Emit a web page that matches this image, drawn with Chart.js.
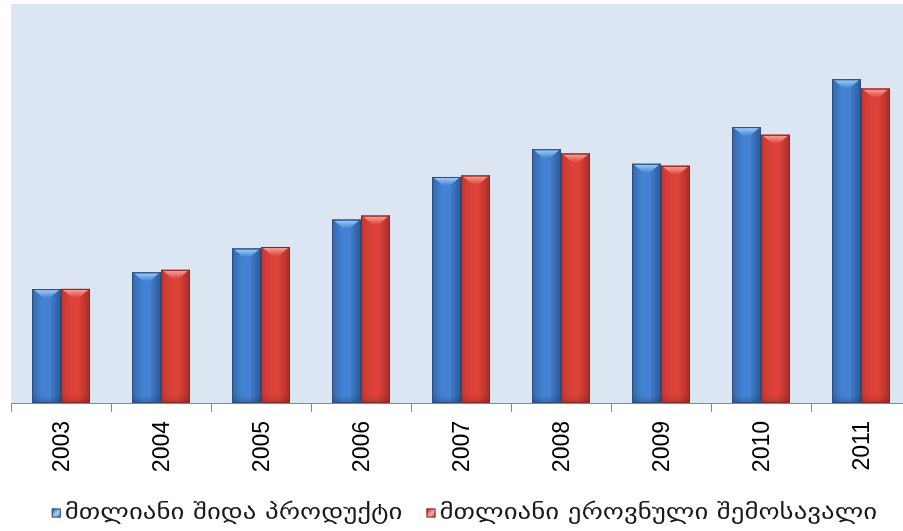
<!DOCTYPE html>
<html>
<head>
<meta charset="utf-8">
<script src="https://cdn.jsdelivr.net/npm/chart.js@4/dist/chart.umd.min.js"></script>
<style>
  html, body { margin: 0; padding: 0; background: #fff; overflow: hidden; }
  #wrap { width: 929px; height: 531px; }
</style>
</head>
<body>
<div id="wrap"><canvas id="c" width="929" height="531"></canvas></div>
<script>
// Years on the category axis
const years = ['2003', '2004', '2005', '2006', '2007', '2008', '2009', '2010', '2011'];
// Gross domestic product, million GEL
const gdp = [8564, 9824, 11621, 13790, 16994, 19075, 17986, 20743, 24344];
// Gross national income, million GEL
const gni = [8580, 10010, 11730, 14090, 17110, 18760, 17840, 20170, 23640];
// Series names shown in the legend
const seriesNames = ['მთლიანი შიდა პროდუქტი', 'მთლიანი ეროვნული შემოსავალი'];
// Upper bound of the (hidden) value axis
const valueMax = 30000;

// Shading palettes for the cylinder-like bars
const palettes = [
  { c0: '#3466AA', c1: '#4382D2', c2: '#2D5896', hi: '#A5D2FA', edge: '#2B4E7E' },
  { c0: '#C2372F', c1: '#DC4239', c2: '#A72E27', hi: '#F8AAA2', edge: '#8B2722' }
];

// Light panel behind the bars
const panelBg = {
  id: 'panelBg',
  beforeDraw(chart) {
    const { ctx, chartArea: a } = chart;
    ctx.save();
    ctx.fillStyle = '#DCE6F2';
    ctx.fillRect(a.left, a.top, a.right - a.left, a.bottom - a.top);
    ctx.restore();
  }
};

// Repaint every bar with a horizontal gradient, a bevelled top and a dark edge
const barShading = {
  id: 'barShading',
  afterDatasetsDraw(chart) {
    const ctx = chart.ctx;
    chart.data.datasets.forEach((ds, di) => {
      const pal = palettes[di];
      const meta = chart.getDatasetMeta(di);
      meta.data.forEach(bar => {
        const { x, y, base, width } = bar.getProps(['x', 'y', 'base', 'width'], true);
        const l = x - width / 2, r = x + width / 2, h = base - y;
        ctx.save();
        const g = ctx.createLinearGradient(l, 0, r, 0);
        g.addColorStop(0, pal.c0);
        g.addColorStop(0.35, pal.c1);
        g.addColorStop(0.6, pal.c1);
        g.addColorStop(1, pal.c2);
        ctx.fillStyle = g;
        ctx.fillRect(l, y, width, h);
        // darker band at the foot of the bar
        const fg = ctx.createLinearGradient(0, base - 8, 0, base);
        fg.addColorStop(0, 'rgba(0,0,0,0)');
        fg.addColorStop(1, 'rgba(0,0,0,0.18)');
        ctx.fillStyle = fg;
        ctx.fillRect(l, base - 8, width, 8);
        // bevelled top
        const bh = Math.min(9, h / 2);
        const bg = ctx.createLinearGradient(0, y, 0, y + bh);
        bg.addColorStop(0, pal.hi);
        bg.addColorStop(1, pal.c1);
        ctx.fillStyle = bg;
        ctx.beginPath();
        ctx.moveTo(l + 2, y + 1);
        ctx.lineTo(r - 2, y + 1);
        ctx.lineTo(x + 3, y + bh);
        ctx.lineTo(x - 3, y + bh);
        ctx.closePath();
        ctx.fill();
        ctx.strokeStyle = pal.edge;
        ctx.lineWidth = 1;
        ctx.strokeRect(l + 0.5, y + 0.5, width - 1, h - 1);
        ctx.restore();
      });
    });
  }
};

// Legend row under the axis labels (text stretched horizontally)
const legendRow = {
  id: 'legendRow',
  afterDraw(chart) {
    const ctx = chart.ctx;
    ctx.save();
    ctx.font = '21px "DejaVu Sans"';
    ctx.textBaseline = 'middle';
    const sx = 1.28;
    const box = 9, gapText = 4, gapItem = 24, cy = 514;
    const labels = chart.data.datasets.map(d => d.label);
    const widths = labels.map(t => ctx.measureText(t).width * sx);
    const total = widths.reduce((s, w) => s + box + gapText + w, 0) + gapItem * (labels.length - 1);
    let x = chart.width / 2 - total / 2;
    labels.forEach((t, i) => {
      const pal = palettes[i];
      const g = ctx.createLinearGradient(x, cy - box / 2, x + box, cy + box / 2);
      g.addColorStop(0, pal.c2);
      g.addColorStop(0.5, pal.hi);
      g.addColorStop(1, pal.c0);
      ctx.fillStyle = g;
      ctx.fillRect(x, cy - 1 - box / 2, box, box);
      ctx.strokeStyle = pal.edge;
      ctx.lineWidth = 1;
      ctx.strokeRect(x + 0.5, cy - 1 - box / 2 + 0.5, box - 1, box - 1);
      ctx.save();
      ctx.translate(x + box + gapText, cy);
      ctx.scale(sx, 1);
      ctx.fillStyle = '#1a1a1a';
      ctx.fillText(t, 0, 0);
      ctx.restore();
      x += box + gapText + widths[i] + gapItem;
    });
    ctx.restore();
  }
};

new Chart(document.getElementById('c'), {
  type: 'bar',
  data: {
    labels: years,
    datasets: [
      { label: seriesNames[0], data: gdp, backgroundColor: palettes[0].c1, borderWidth: 0 },
      { label: seriesNames[1], data: gni, backgroundColor: palettes[1].c1, borderWidth: 0 }
    ]
  },
  options: {
    responsive: false,
    animation: false,
    devicePixelRatio: 1,
    layout: { padding: { left: 11, top: 4, right: 18, bottom: 0 } },
    datasets: { bar: { categoryPercentage: 0.58, barPercentage: 1.0 } },
    plugins: { legend: { display: false }, tooltip: { enabled: false } },
    scales: {
      x: {
        afterFit(s) { s.height = 128; },
        grid: { offset: true, drawOnChartArea: false, drawTicks: true, tickLength: 9, color: '#888888', lineWidth: 1 },
        border: { display: true, color: '#888888', width: 1 },
        ticks: {
          autoSkip: false, minRotation: 90, maxRotation: 90, padding: 9, labelOffset: 2,
          color: '#000000', font: { family: '"Liberation Sans", Arial, sans-serif', size: 23 }
        }
      },
      y: { display: false, min: 0, max: valueMax }
    }
  },
  plugins: [panelBg, barShading, legendRow]
});
</script>
</body>
</html>
